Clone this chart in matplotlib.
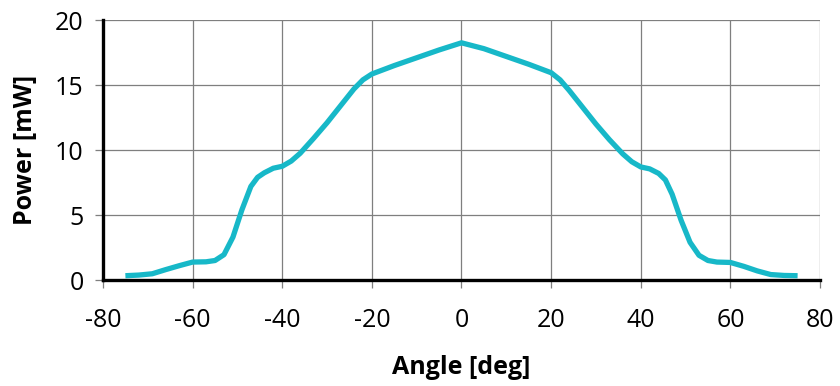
import matplotlib.pyplot as plt

# Datos
angle = [-75, -72, -69, -66, -63, -60, -57, -55, -53, -51, -49, -47, -45.5, -44, -42, -40,
         -38, -36, -33, -30, -27, -24, -22, -20, -15, -10, -5, 0,
         5, 10, 15, 20, 22, 24, 27, 30, 33, 36, 38, 40, 42, 44, 45.5, 47, 49, 51, 53, 55,
         57, 60, 63, 66, 69, 72, 75]
power = [0.33, 0.38, 0.48, 0.80, 1.10, 1.38, 1.40, 1.50, 1.95, 3.30, 5.40, 7.20, 7.90, 8.25, 8.60, 8.75,
         9.15, 9.75, 10.90, 12.10, 13.40, 14.70, 15.40, 15.85, 16.50, 17.10, 17.70, 18.25,
         17.80, 17.20, 16.60, 15.95, 15.40, 14.60, 13.30, 12.00, 10.80, 9.70, 9.10, 8.70, 8.55, 8.20, 7.70, 6.60, 4.60, 2.90, 1.90, 1.50,
         1.38, 1.35, 1.05, 0.70, 0.42, 0.35, 0.33]

xticks = [-80, -60, -40, -20, 0, 20, 40, 60, 80]
yticks = [0, 5, 10, 15, 20]

plt.rcParams['font.family'] = ['Open Sans', 'DejaVu Sans']
plt.rcParams['axes.unicode_minus'] = False

fig = plt.figure(figsize=(8.4, 3.86), dpi=100)
ax = fig.add_axes([0.1226, 0.2746, 0.8536, 0.6734])

ax.plot(angle, power, color='#17b8c8', linewidth=3.8, solid_joinstyle='round',
        solid_capstyle='butt', zorder=3)

ax.set_xlim(-80, 80)
ax.set_ylim(0, 20)
ax.set_xticks(xticks)
ax.set_yticks(yticks)
ax.grid(True, color='#7f7f7f', linewidth=0.9)

for s in ['top', 'right']:
    ax.spines[s].set_visible(False)
for s in ['left', 'bottom']:
    ax.spines[s].set_linewidth(2.4)
    ax.spines[s].set_color('black')
    ax.spines[s].set_zorder(4)

ax.tick_params(axis='both', direction='out', length=6, width=0.9, color='#7f7f7f',
               labelsize=18)
ax.tick_params(axis='y', pad=8)
ax.tick_params(axis='x', pad=14)

ax.set_xlabel('Angle [deg]', fontsize=18, fontweight='bold', labelpad=16)
ax.set_ylabel('Power [mW]', fontsize=18, fontweight='bold', labelpad=12)

fig.savefig('out.png', dpi=100)
